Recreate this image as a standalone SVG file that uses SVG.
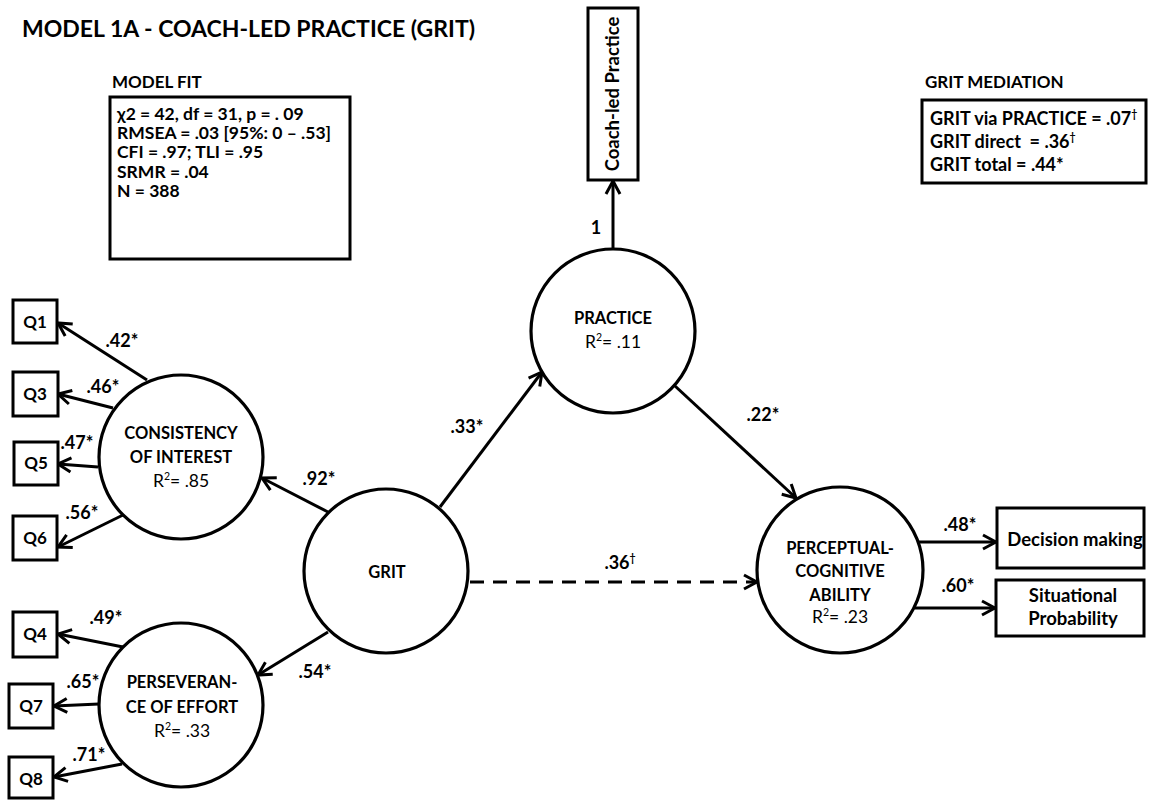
<svg xmlns="http://www.w3.org/2000/svg" width="1151" height="801" viewBox="0 0 1151 801">
  <defs>
    <marker id="arrow" markerUnits="userSpaceOnUse" viewBox="0 0 18 18" markerWidth="18" markerHeight="18" refX="15" refY="9" orient="auto">
      <path d="M2,2 L15,9 L2,16" fill="none" stroke="#000" stroke-width="3" stroke-linejoin="miter"/>
    </marker>
  </defs>
  <style>
    text { font-family: Lato, "Open Sans", "Liberation Sans", sans-serif; fill: #000; }
    .b { font-weight: bold; font-size: 17.5px; }
    .h { font-weight: bold; font-size: 17px; }
    .m { font-weight: bold; font-size: 18px; }
    .lbl { font-weight: bold; font-size: 18px; }
    .cap { font-weight: bold; font-size: 16.5px; }
    .obs { font-weight: bold; font-size: 18.5px; }
    .q { font-weight: bold; font-size: 17px; }
    .n { font-weight: normal; font-size: 17.5px; }
    .title { font-weight: bold; font-size: 23px; }
    .c { text-anchor: middle; }
    .pre { white-space: pre; }
    .box { fill: #fff; stroke: #000; stroke-width: 3; }
    .latent { fill: #fff; stroke: #000; stroke-width: 3.2; }
    .path { fill: none; stroke: #000; stroke-width: 3; marker-end: url(#arrow); }
    .dash { stroke-dasharray: 14 9; }
    .sup { font-size: 10.5px; }
  </style>
  <rect width="1151" height="801" fill="#fff"/>

  <!-- heading and fit statistics -->
  <text class="title" x="22" y="37">MODEL 1A - COACH-LED PRACTICE (GRIT)</text>

  <g id="model-fit">
    <text class="h" x="112" y="88">MODEL FIT</text>
    <rect class="box" x="110" y="97" width="240" height="162"/>
    <text class="b" x="117" y="120">χ2 = 42, df = 31, p = . 09</text>
    <text class="b" x="117" y="139">RMSEA = .03 [95%: 0 – .53]</text>
    <text class="b" x="117" y="158">CFI = .97; TLI = .95</text>
    <text class="b" x="117" y="178">SRMR = .04</text>
    <text class="b" x="117" y="197">N = 388</text>
  </g>

  <g id="grit-mediation">
    <text class="h" x="925" y="88">GRIT MEDIATION</text>
    <rect class="box" x="922" y="100" width="224" height="83"/>
    <text class="m" x="930" y="125">GRIT via PRACTICE = .07<tspan class="sup" dy="-7">†</tspan></text>
    <text class="m pre" x="930" y="148">GRIT direct  = .36<tspan class="sup" dy="-7">†</tspan></text>
    <text class="m" x="930" y="171">GRIT total = .44*</text>
  </g>

  <!-- structural and measurement paths -->
  <g id="connectors">
    <line class="path" x1="613" y1="249" x2="613" y2="181"/>
    <line class="path" x1="440" y1="507" x2="542" y2="372"/>
    <line class="path" x1="675" y1="386" x2="796" y2="498"/>
    <line class="path dash" x1="470" y1="582" x2="757" y2="582"/>
    <line class="path" x1="328" y1="512" x2="262" y2="478"/>
    <line class="path" x1="328" y1="632" x2="258" y2="675"/>
    <line class="path" x1="918" y1="542" x2="996" y2="542"/>
    <line class="path" x1="915" y1="608" x2="995" y2="608"/>
    <line class="path" x1="147" y1="380" x2="58" y2="323"/>
    <line class="path" x1="113" y1="408" x2="58" y2="394"/>
    <line class="path" x1="98" y1="467" x2="58" y2="464"/>
    <line class="path" x1="123" y1="515" x2="58" y2="547"/>
    <line class="path" x1="123" y1="647" x2="58" y2="634"/>
    <line class="path" x1="99" y1="704" x2="54" y2="706"/>
    <line class="path" x1="122" y1="764" x2="54" y2="777"/>

    <text class="lbl c" x="596" y="234">1</text>
    <text class="lbl c" x="467" y="433">.33*</text>
    <text class="lbl c" x="763" y="421">.22*</text>
    <text class="lbl c" x="620" y="569">.36<tspan class="sup" dy="-7">†</tspan></text>
    <text class="lbl c" x="319" y="485">.92*</text>
    <text class="lbl c" x="315" y="678">.54*</text>
    <text class="lbl c" x="960" y="531">.48*</text>
    <text class="lbl c" x="958" y="592">.60*</text>
    <text class="lbl c" x="122" y="347">.42*</text>
    <text class="lbl c" x="103" y="393">.46*</text>
    <text class="lbl c" x="77" y="449">.47*</text>
    <text class="lbl c" x="82" y="519">.56*</text>
    <text class="lbl c" x="106" y="624">.49*</text>
    <text class="lbl c" x="83" y="688">.65*</text>
    <text class="lbl c" x="89" y="761">.71*</text>
  </g>

  <!-- latent variables -->
  <g id="practice">
    <circle class="latent" cx="613" cy="331" r="82"/>
    <text class="cap c" x="613" y="324">PRACTICE</text>
    <text class="n c" x="613" y="348">R<tspan class="sup" dy="-7">2</tspan><tspan dy="7">= .11</tspan></text>
  </g>
  <g id="grit">
    <circle class="latent" cx="386" cy="571" r="82"/>
    <text class="cap c" x="387" y="578">GRIT</text>
  </g>
  <g id="perceptual-cognitive">
    <circle class="latent" cx="840" cy="570" r="83"/>
    <text class="cap c" x="840" y="554">PERCEPTUAL-</text>
    <text class="cap c" x="840" y="577">COGNITIVE</text>
    <text class="cap c" x="840" y="601">ABILITY</text>
    <text class="n c" x="840" y="623">R<tspan class="sup" dy="-7">2</tspan><tspan dy="7">= .23</tspan></text>
  </g>
  <g id="consistency">
    <circle class="latent" cx="181" cy="457" r="82"/>
    <text class="cap c" x="181" y="439">CONSISTENCY</text>
    <text class="cap c" x="181" y="463">OF INTEREST</text>
    <text class="n c" x="181" y="487">R<tspan class="sup" dy="-7">2</tspan><tspan dy="7">= .85</tspan></text>
  </g>
  <g id="perseverance">
    <circle class="latent" cx="181" cy="705" r="82"/>
    <text class="cap c" x="182" y="688">PERSEVERAN-</text>
    <text class="cap c" x="182" y="713">CE OF EFFORT</text>
    <text class="n c" x="182" y="737">R<tspan class="sup" dy="-7">2</tspan><tspan dy="7">= .33</tspan></text>
  </g>

  <!-- observed indicators -->
  <g id="coach-led-practice">
    <rect class="box" x="588" y="8" width="50" height="172"/>
    <text class="obs c" transform="translate(619,94) rotate(-90)">Coach-led Practice</text>
  </g>
  <g id="decision-making">
    <rect class="box" x="997" y="508" width="147" height="60"/>
    <text class="obs c" x="1075" y="546">Decision making</text>
  </g>
  <g id="situational-probability">
    <rect class="box" x="996" y="580" width="148" height="56"/>
    <text class="obs c" x="1073" y="602">Situational</text>
    <text class="obs c" x="1073" y="625">Probability</text>
  </g>
  <g id="q1"><rect class="box" x="13" y="300" width="44" height="43"/><text class="q c" x="35" y="328">Q1</text></g>
  <g id="q3"><rect class="box" x="13" y="372" width="45" height="44"/><text class="q c" x="35" y="400">Q3</text></g>
  <g id="q5"><rect class="box" x="14" y="442" width="44" height="43"/><text class="q c" x="36" y="469">Q5</text></g>
  <g id="q6"><rect class="box" x="13" y="516" width="44" height="44"/><text class="q c" x="35" y="544">Q6</text></g>
  <g id="q4"><rect class="box" x="13" y="612" width="44" height="45"/><text class="q c" x="35" y="640">Q4</text></g>
  <g id="q7"><rect class="box" x="9" y="684" width="44" height="44"/><text class="q c" x="31" y="712">Q7</text></g>
  <g id="q8"><rect class="box" x="9" y="757" width="44" height="41"/><text class="q c" x="31" y="785">Q8</text></g>
</svg>
